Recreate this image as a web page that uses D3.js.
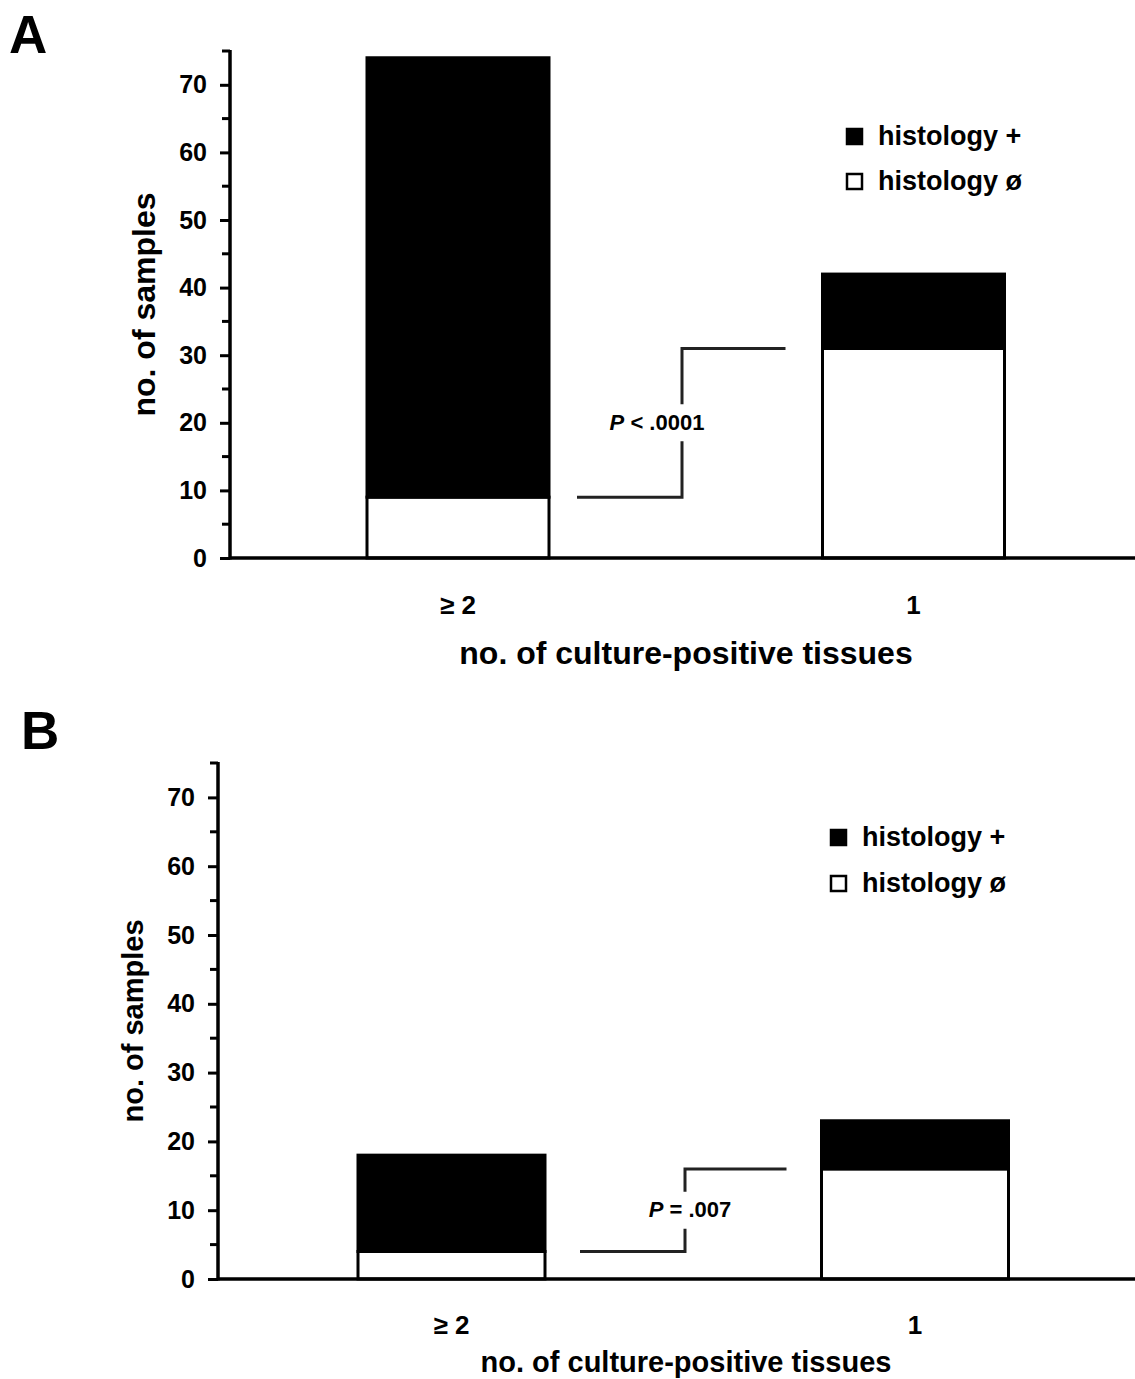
<!DOCTYPE html>
<html>
<head>
<meta charset="utf-8">
<script src="https://cdn.jsdelivr.net/npm/d3@7"></script>
<style>
    body { margin: 0; background: #fff; }
    svg { display: block; font-family: "Liberation Sans", Arial, sans-serif; font-weight: bold; }
</style>
</head>
<body>
<svg id="chart" width="1135" height="1379"></svg>
<script>
// Data
const categories = ["≥ 2", "1"];
const seriesNames = ["histology +", "histology ø"];
const panelAPositive = [65, 11];
const panelANegative = [9, 31];
const panelBPositive = [14, 7];
const panelBNegative = [4, 16];
const yTickValues = [0, 10, 20, 30, 40, 50, 60, 70];
const yMinorTicks = [5, 15, 25, 35, 45, 55, 65, 75];
const pLabels = [["P", " < .0001"], ["P", " = .007"]];
const panelLetters = ["A", "B"];

const svg = d3.select("#chart");

const panels = [
    {
        letter: panelLetters[0], positive: panelAPositive, negative: panelANegative, p: pLabels[0],
        axisX: 230, top: 51, base: 558, xCenters: [458, 913.5], barW: 182,
        legendX: 846, legendY: 128, legendStep: 45,
        bracketX: 682, gapLeft: 28, gapRight: 37, textX: 657,
        xLabelY: 614, titleY: 664, titleSize: 32,
        letterX: 9, letterY: 53
    },
    {
        letter: panelLetters[1], positive: panelBPositive, negative: panelBNegative, p: pLabels[1],
        axisX: 218, top: 763, base: 1279, xCenters: [451.5, 915], barW: 187,
        legendX: 830, legendY: 829, legendStep: 46,
        bracketX: 685, gapLeft: 35, gapRight: 35, textX: 690,
        xLabelY: 1334, titleY: 1372, titleSize: 29,
        letterX: 21, letterY: 749
    }
];

panels.forEach(p => drawPanel(p));

function drawPanel(cfg) {
    const g = svg.append("g");

    const yScale = d3.scaleLinear()
        .domain([0, 75])
        .range([cfg.base, cfg.top]);

    const xScale = d3.scalePoint()
        .domain(categories)
        .range(cfg.xCenters);

    // White (histology ø) at the bottom, black (histology +) stacked on top
    const rows = categories.map((c, i) => ({ cat: c, neg: cfg.negative[i], pos: cfg.positive[i] }));

    rows.forEach(d => {
        const x0 = xScale(d.cat) - cfg.barW / 2;
        g.append("rect")
            .attr("x", x0)
            .attr("y", yScale(d.neg))
            .attr("width", cfg.barW)
            .attr("height", yScale(0) - yScale(d.neg))
            .attr("fill", "#fff")
            .attr("stroke", "#000")
            .attr("stroke-width", 3);
        g.append("rect")
            .attr("x", x0)
            .attr("y", yScale(d.neg + d.pos))
            .attr("width", cfg.barW)
            .attr("height", yScale(d.neg) - yScale(d.neg + d.pos))
            .attr("fill", "#000")
            .attr("stroke", "#000")
            .attr("stroke-width", 3);
    });

    // Y axis, major ticks with labels
    const yAxis = d3.axisLeft(yScale)
        .tickValues(yTickValues)
        .tickSize(10)
        .tickPadding(13)
        .tickSizeOuter(0);

    const yG = g.append("g")
        .attr("transform", `translate(${cfg.axisX}, 0)`)
        .call(yAxis);
    yG.select(".domain").remove();
    yG.selectAll(".tick line").attr("stroke-width", 3);
    yG.selectAll(".tick text")
        .style("font-size", "25px")
        .style("font-weight", "bold")
        .attr("fill", "#000");

    // minor ticks
    g.selectAll(null)
        .data(yMinorTicks)
        .join("line")
        .attr("x1", cfg.axisX - 8)
        .attr("x2", cfg.axisX)
        .attr("y1", d => yScale(d))
        .attr("y2", d => yScale(d))
        .attr("stroke", "#000")
        .attr("stroke-width", 3);

    g.append("line")
        .attr("x1", cfg.axisX)
        .attr("x2", cfg.axisX)
        .attr("y1", cfg.top - 1)
        .attr("y2", cfg.base + 1.5)
        .attr("stroke", "#000")
        .attr("stroke-width", 3.5);

    // X baseline runs to the right edge
    g.append("line")
        .attr("x1", cfg.axisX)
        .attr("x2", 1135)
        .attr("y1", cfg.base)
        .attr("y2", cfg.base)
        .attr("stroke", "#000")
        .attr("stroke-width", 3.5);

    g.selectAll(null)
        .data(categories)
        .join("text")
        .attr("x", d => xScale(d))
        .attr("y", cfg.xLabelY)
        .attr("text-anchor", "middle")
        .style("font-size", "26px")
        .text(d => d);

    g.append("text")
        .attr("x", 686)
        .attr("y", cfg.titleY)
        .attr("text-anchor", "middle")
        .style("font-size", `${cfg.titleSize}px`)
        .text("no. of culture-positive tissues");

    g.append("text")
        .attr("transform", `translate(${cfg.axisX - 75}, ${(cfg.top + cfg.base) / 2}) rotate(-90)`)
        .attr("text-anchor", "middle")
        .style("font-size", `${cfg.titleSize}px`)
        .text("no. of samples");

    g.append("text")
        .attr("x", cfg.letterX)
        .attr("y", cfg.letterY)
        .style("font-size", "53px")
        .text(cfg.letter);

    // Legend
    const legendFills = ["#000", "#fff"];
    seriesNames.forEach((name, i) => {
        const ly = cfg.legendY + i * cfg.legendStep;
        g.append("rect")
            .attr("x", cfg.legendX + 1)
            .attr("y", ly + 1)
            .attr("width", 15)
            .attr("height", 15)
            .attr("fill", legendFills[i])
            .attr("stroke", "#000")
            .attr("stroke-width", 2.5);
        g.append("text")
            .attr("x", cfg.legendX + 32)
            .attr("y", ly + 17)
            .style("font-size", "27px")
            .text(name);
    });

    // Significance bracket between the white segments
    const yLow = yScale(cfg.negative[0]);
    const yHigh = yScale(cfg.negative[1]);
    const leftEnd = xScale(categories[0]) + cfg.barW / 2 + cfg.gapLeft;
    const rightEnd = xScale(categories[1]) - cfg.barW / 2 - cfg.gapRight;
    const midY = (yLow + yHigh) / 2;
    const gapHalf = 18.5;

    const bracket = d3.path();
    bracket.moveTo(leftEnd, yLow);
    bracket.lineTo(cfg.bracketX, yLow);
    bracket.lineTo(cfg.bracketX, midY + gapHalf);
    bracket.moveTo(cfg.bracketX, midY - gapHalf);
    bracket.lineTo(cfg.bracketX, yHigh);
    bracket.lineTo(rightEnd, yHigh);

    g.append("path")
        .attr("d", bracket.toString())
        .attr("fill", "none")
        .attr("stroke", "#222")
        .attr("stroke-width", 3);

    const pText = g.append("text")
        .attr("x", cfg.textX)
        .attr("y", midY + 7)
        .attr("text-anchor", "middle")
        .style("font-size", "22px");
    pText.append("tspan").style("font-style", "italic").text(cfg.p[0]);
    pText.append("tspan").text(cfg.p[1]);
}
</script>
</body>
</html>
